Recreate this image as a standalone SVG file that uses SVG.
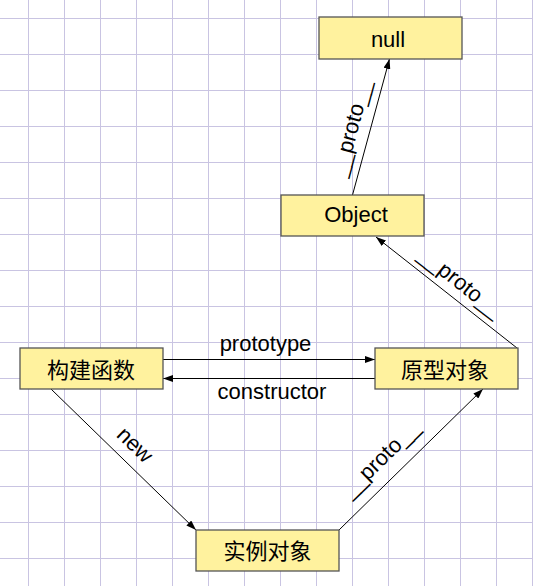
<svg xmlns="http://www.w3.org/2000/svg" width="533" height="586" viewBox="0 0 533 586">
<style>
.grid{stroke:#c9c4e2;stroke-width:1;fill:none}
.box{fill:#fff29e;stroke:#555;stroke-width:1.3}
.t{font-family:"Liberation Sans","Noto Sans CJK SC",sans-serif;font-size:22px;fill:#000;text-anchor:middle}
.c{font-family:"Noto Sans CJK SC","Liberation Sans",sans-serif;font-size:22px;fill:#000;text-anchor:middle}
.e{stroke:#000;stroke-width:1;fill:none;marker-end:url(#ah)}
</style>
<defs>
<marker id="ah" viewBox="0 0 10 7" refX="10" refY="3.5" markerWidth="10" markerHeight="7" markerUnits="userSpaceOnUse" orient="auto">
<path d="M0,0 L10,3.5 L0,7 Z" fill="#000"/>
</marker>
</defs>
<rect width="533" height="586" fill="#fff"/>
<path class="grid" d="M28.5,0V586M64.5,0V586M100.5,0V586M136.5,0V586M172.5,0V586M208.5,0V586M244.5,0V586M280.5,0V586M316.5,0V586M352.5,0V586M388.5,0V586M424.5,0V586M460.5,0V586M496.5,0V586M532.5,0V586M0,18.5H533M0,54.5H533M0,90.5H533M0,126.5H533M0,162.5H533M0,198.5H533M0,234.5H533M0,270.5H533M0,306.5H533M0,342.5H533M0,378.5H533M0,414.5H533M0,450.5H533M0,486.5H533M0,522.5H533M0,558.5H533"/>
<g id="edges">
<line class="e" x1="163" y1="359.5" x2="375" y2="359.5"/>
<line class="e" x1="375" y1="378.5" x2="163" y2="378.5"/>
<line class="e" x1="352.5" y1="195" x2="389.5" y2="59"/>
<line class="e" x1="517" y1="348" x2="376" y2="237"/>
<line class="e" x1="51" y1="389" x2="196" y2="530"/>
<line class="e" x1="339" y1="530" x2="483" y2="389"/>
<text class="t" x="265.5" y="350.5">prototype</text>
<text class="t" x="272" y="398.5">constructor</text>
<text class="t" transform="translate(358,130) rotate(-75)">__proto__</text>
<text class="t" transform="translate(456,288) rotate(38)">__proto__</text>
<text class="t" transform="translate(130,450) rotate(44)">new</text>
<text class="t" transform="translate(385.5,464) rotate(-44.5)">__proto__</text>
</g>
<g id="null"><rect class="box" x="319" y="17" width="143" height="42"/><text class="t" x="388" y="46.5">null</text></g>
<g id="object"><rect class="box" x="281" y="195" width="143" height="41"/><text class="t" x="356" y="222">Object</text></g>
<g id="ctor"><rect class="box" x="20" y="348" width="143" height="41"/><text class="c" x="91" y="378">构建函数</text></g>
<g id="proto"><rect class="box" x="375" y="348" width="143" height="41"/><text class="c" x="445" y="378">原型对象</text></g>
<g id="inst"><rect class="box" x="196" y="530" width="143" height="41"/><text class="c" x="267.5" y="559">实例对象</text></g>
</svg>
